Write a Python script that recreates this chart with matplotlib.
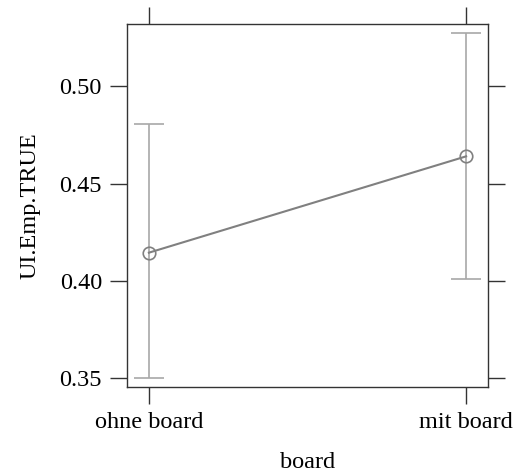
import matplotlib.pyplot as plt

# Effect estimates for board
levels = ['ohne board', 'mit board']
fit = [0.4145, 0.4640]
lower = [0.3502, 0.4010]
upper = [0.4805, 0.5275]
yticks = [0.35, 0.40, 0.45, 0.50]

plt.rcParams['font.family'] = ['Liberation Serif', 'DejaVu Serif']

fig = plt.figure(figsize=(5.2, 4.76), dpi=100)
ax = fig.add_axes([0.2442, 0.187, 0.6943, 0.7626])

x = list(range(len(levels)))
yerr = [[f - l for f, l in zip(fit, lower)], [u - f for f, u in zip(fit, upper)]]
ax.errorbar(x, fit, yerr=yerr, fmt='none', ecolor='#a8a8a8', elinewidth=1.2,
            capsize=11, capthick=1.2, zorder=2)
ax.plot(x, fit, color='#808080', lw=1.5, marker='o', markersize=9,
        markerfacecolor='none', markeredgecolor='#808080', markeredgewidth=1.2, zorder=3)

ax.set_xlim(-0.069, 1.069)
ax.set_ylim(0.3455, 0.532)
ax.set_xticks(x)
ax.set_xticklabels(levels)
ax.set_yticks(yticks)
ax.set_yticklabels(['%.2f' % t for t in yticks])

for s in ax.spines.values():
    s.set_color('#333333')
    s.set_linewidth(1.0)
ax.tick_params(axis='both', direction='out', length=12, width=1.0, color='#333333',
               labelsize=17.5, pad=6, top=True, right=True, labeltop=False, labelright=False)

ax.set_xlabel('board', fontsize=17.5, labelpad=14)
ax.set_ylabel('UI.Emp.TRUE', fontsize=17.5, labelpad=14)

fig.savefig('out.png', dpi=100)
